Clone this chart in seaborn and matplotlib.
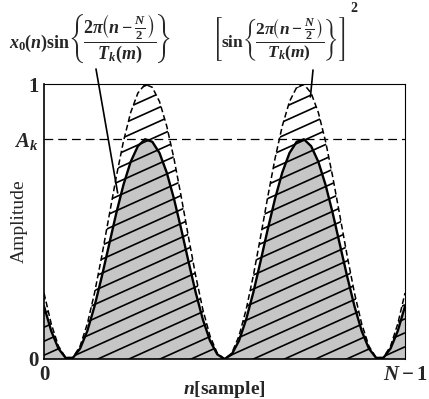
import numpy as np
import pandas as pd
import matplotlib
matplotlib.use("Agg")
import matplotlib.pyplot as plt
import seaborn as sns
from matplotlib.collections import LineCollection

# ---- data (n as % of the frame, 0 .. N-1) ----
n_pos = [0, 2, 4, 6, 8, 10, 12, 14, 16, 18, 20, 22, 24, 26, 28, 30, 32, 34, 36, 38,
         40, 42, 44, 46, 48, 50, 52, 54, 56, 58, 60, 62, 64, 66, 68, 70, 72, 74, 76, 78,
         80, 82, 84, 86, 88, 90, 92, 94, 96, 98, 100]
window_sq = [0.240, 0.128, 0.047, 0.005, 0.005, 0.047, 0.128, 0.240, 0.374, 0.518,
             0.661, 0.791, 0.896, 0.967, 0.999, 0.988, 0.936, 0.847, 0.729, 0.591,
             0.445, 0.304, 0.180, 0.083, 0.021, 0.000, 0.021, 0.083, 0.180, 0.304,
             0.445, 0.591, 0.729, 0.847, 0.936, 0.988, 0.999, 0.967, 0.896, 0.791,
             0.661, 0.518, 0.374, 0.240, 0.128, 0.047, 0.005, 0.005, 0.047, 0.128, 0.240]
windowed = [0.192, 0.102, 0.038, 0.004, 0.004, 0.038, 0.102, 0.192, 0.299, 0.414,
            0.529, 0.633, 0.717, 0.774, 0.799, 0.790, 0.749, 0.678, 0.583, 0.473,
            0.356, 0.243, 0.144, 0.066, 0.017, 0.000, 0.017, 0.066, 0.144, 0.243,
            0.356, 0.473, 0.583, 0.678, 0.749, 0.790, 0.799, 0.774, 0.717, 0.633,
            0.529, 0.414, 0.299, 0.192, 0.102, 0.038, 0.004, 0.004, 0.038, 0.102, 0.192]
A_k = 0.8
x_ticks = [0, 100]
x_labels = ["0", r"$N-1$"]
y_ticks = [0, A_k, 1]
y_labels = ["0", r"$A_k$", "1"]
label_signal = r"$x_0(n)\sin\!\left\{\!\dfrac{2\pi\!\left(n-\frac{N}{2}\right)}{T_k(m)}\!\right\}$"
label_window = r"$\left[\sin\!\left\{\!\dfrac{2\pi\!\left(n-\frac{N}{2}\right)}{T_k(m)}\!\right\}\right]$"

sns.set_style("white")
plt.rcParams["font.family"] = ["Liberation Serif", "DejaVu Serif"]
plt.rcParams["mathtext.fontset"] = "custom"
plt.rcParams["mathtext.rm"] = "Liberation Serif:bold"
plt.rcParams["mathtext.it"] = "Liberation Serif:italic:bold"
plt.rcParams["mathtext.bf"] = "Liberation Serif:bold"
plt.rcParams["mathtext.fallback"] = "stix"

df = pd.DataFrame({"n": n_pos, "window": window_sq, "signal": windowed})

fig = plt.figure(figsize=(4.29, 3.99), dpi=100)
ax = fig.add_axes([44 / 429, 40 / 399, 361 / 429, 275 / 399])

outer = ax.fill_between(df["n"], 0, df["window"], facecolor="white", edgecolor="none", zorder=1)
inner = ax.fill_between(df["n"], 0, df["signal"], facecolor="#c6c6c6", edgecolor="none", zorder=1.5)

# shallow diagonal hatching clipped to the area under the dashed curve
slope_ax = 0.45 * 361 / 275
step_ax = 14 / 275
segs = [[(0, c), (1, c + slope_ax)] for c in np.arange(-0.75, 1.05, step_ax)]
lc = LineCollection(segs, colors="black", linewidths=1.2, transform=ax.transAxes, zorder=2)
ax.add_collection(lc, autolim=False)
lc.set_clip_path(outer.get_paths()[0], ax.transData)

sns.lineplot(data=df, x="n", y="window", ax=ax, color="black", lw=1.1, zorder=3)
ax.lines[-1].set_linestyle((0, (3.8, 2.0)))
sns.lineplot(data=df, x="n", y="signal", ax=ax, color="black", lw=1.7, zorder=3.5)

ax.axhline(A_k, color="black", lw=0.9, linestyle=(0, (7, 4)), zorder=4)

ax.set_xlim(0, 100)
ax.set_ylim(0, 1)
ax.set_xticks(x_ticks)
ax.set_xticklabels(x_labels, fontsize=15, fontweight="bold")
ax.set_yticks(y_ticks)
ax.set_yticklabels(y_labels, fontsize=15, fontweight="bold")
ax.tick_params(length=0, pad=4)
for s in ["left", "bottom"]:
    ax.spines[s].set_linewidth(1.2)
for s in ["top", "right"]:
    ax.spines[s].set_linewidth(0.8)
for s in ax.spines.values():
    s.set_color("black")
    s.set_visible(True)

ax.set_xlabel(r"$n$[sample]", fontsize=14, fontweight="bold")
ax.xaxis.set_label_coords(0.5, (359 - 379) / 275)
ax.set_ylabel("Amplitude", fontsize=14)
ax.yaxis.set_label_coords((28 - 44) / 361, 0.5)

fig.text(90 / 429, 1 - 38 / 399, label_signal, ha="center", va="center", fontsize=13)
fig.text(279 / 429, 1 - 39 / 399, label_window, ha="center", va="center", fontsize=12.5)
fig.text(350 / 429, 1 - 9 / 399, "2", ha="left", va="center", fontsize=10, fontweight="bold")

ax.annotate("", xy=(20.4, 0.604), xycoords="data", xytext=(96 / 429, 1 - 69 / 399),
            textcoords="figure fraction",
            arrowprops=dict(arrowstyle="-", lw=1.2, color="black", shrinkA=0, shrinkB=0),
            zorder=5)
ax.annotate("", xy=(73.8, 0.953), xycoords="data", xytext=(313 / 429, 1 - 70 / 399),
            textcoords="figure fraction",
            arrowprops=dict(arrowstyle="-", lw=1.2, color="black", shrinkA=0, shrinkB=0),
            zorder=5)

fig.savefig("out.png", dpi=100)
